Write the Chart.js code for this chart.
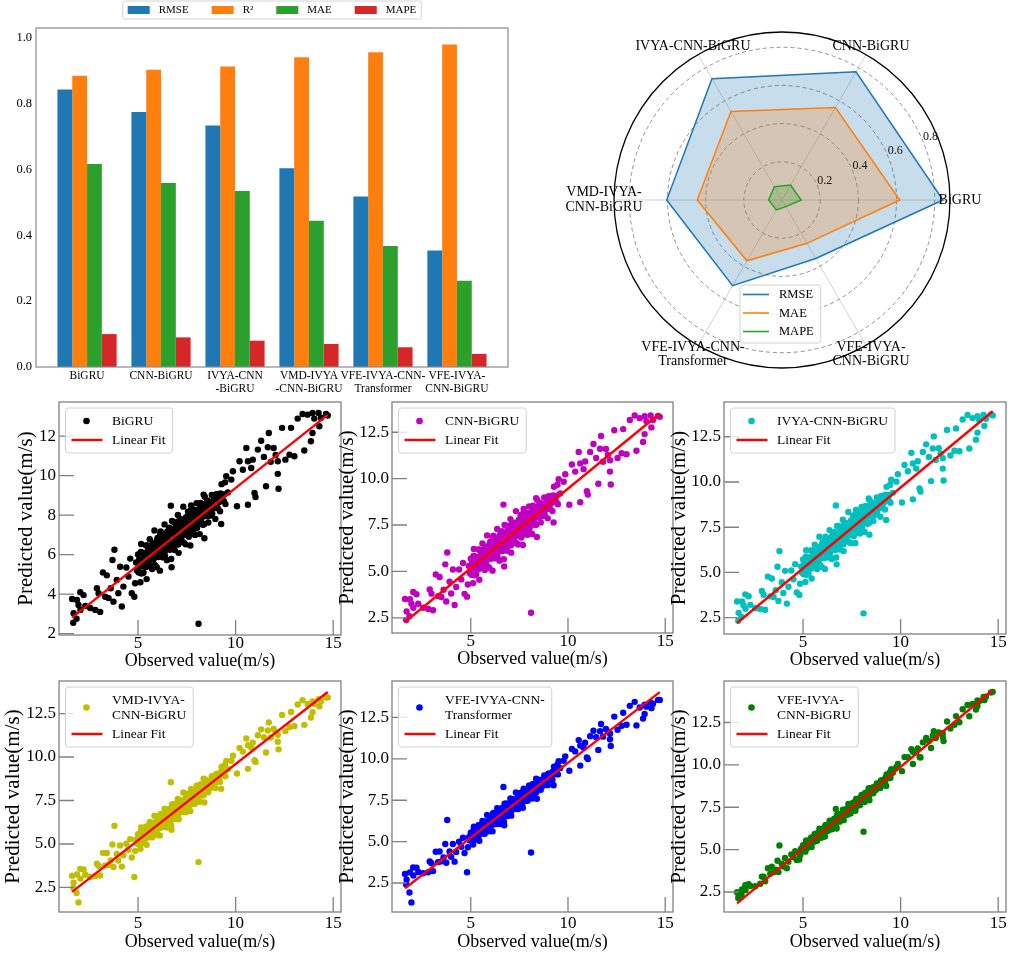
<!DOCTYPE html>
<html>
<head>
<meta charset="utf-8">
<script src="https://cdn.jsdelivr.net/npm/chart.js@4.4.1/dist/chart.umd.min.js"></script>
<style>
  html, body { margin: 0; padding: 0; background: #fff; }
  #fig { position: relative; width: 1015px; height: 957px; overflow: hidden; background: #fff; }
  #fig canvas { position: absolute; }
</style>
</head>
<body>
<div id="fig">
  <canvas id="bars" width="544" height="400" style="left:0px;top:0px"></canvas>
  <canvas id="radar" width="455" height="390" style="left:560px;top:0px"></canvas>
</div>
<script>
// ---------- model metrics ----------
const models = ['BiGRU', 'CNN-BiGRU', 'IVYA-CNN-BiGRU', 'VMD-IVYA-CNN-BiGRU', 'VFE-IVYA-CNN-Transformer', 'VFE-IVYA-CNN-BiGRU'];
const rmse = [0.843, 0.775, 0.734, 0.604, 0.518, 0.354];
const r2   = [0.885, 0.903, 0.913, 0.941, 0.956, 0.980];
const mae  = [0.617, 0.559, 0.535, 0.444, 0.368, 0.262];
const mape = [0.10, 0.09, 0.08, 0.07, 0.06, 0.04];

// tick / axis labels
const barTickLabels = [['BiGRU'], ['CNN-BiGRU'], ['IVYA-CNN', '-BiGRU'], ['VMD-IVYA', '-CNN-BiGRU'], ['VFE-IVYA-CNN-', 'Transformer'], ['VFE-IVYA-', 'CNN-BiGRU']];
const seriesLines = [['BiGRU'], ['CNN-BiGRU'], ['IVYA-CNN-BiGRU'], ['VMD-IVYA-', 'CNN-BiGRU'], ['VFE-IVYA-CNN-', 'Transformer'], ['VFE-IVYA-', 'CNN-BiGRU']];
const barYTicks = [0, 0.2, 0.4, 0.6, 0.8, 1.0];
const radarRings = [0.2, 0.4, 0.6, 0.8];

// ---------- wind speed test set: observed vs predicted (m/s) ----------
const observed = [
  1.62, 1.68, 1.70, 1.85, 1.87, 1.95, 2.04, 2.05, 2.21, 2.30,
  2.55, 2.81, 2.89, 2.98, 3.06, 3.20, 3.32, 3.40, 3.49, 3.60,
  3.69, 3.74, 3.79, 3.91, 3.99, 4.08, 4.17, 4.25, 4.40, 4.51,
  4.60, 4.68, 4.81, 4.85, 4.90, 4.95,
  5.00, 5.04, 5.08, 5.12, 5.16, 5.20, 5.24, 5.28, 5.32, 5.36,
  5.40, 5.44, 5.48, 5.52, 5.56, 5.60, 5.64, 5.68, 5.72, 5.76,
  5.80, 5.84, 5.88, 5.92, 5.96, 6.00, 6.04, 6.08, 6.12, 6.16,
  6.20, 6.24, 6.28, 6.32, 6.36, 6.40, 6.44, 6.48, 6.52, 6.56,
  6.60, 6.64, 6.68, 6.72, 6.76, 6.80, 6.84, 6.88, 6.92, 6.96,
  7.00, 7.04, 7.08, 7.12, 7.16, 7.20, 7.24, 7.28, 7.32, 7.36,
  7.40, 7.44, 7.48, 7.52, 7.56, 7.60, 7.64, 7.68, 7.72, 7.76,
  7.80, 7.84, 7.88, 7.92, 7.96, 8.00, 8.04, 8.10, 8.12, 8.16,
  8.20, 8.24, 8.28, 8.32, 8.36, 8.40, 8.45, 8.50, 8.55, 8.60,
  8.66, 8.72, 8.78, 8.84, 8.90, 8.96, 9.02, 9.08, 9.14, 9.20,
  9.26, 9.32, 9.40, 9.46,
  9.52, 9.60, 9.78, 9.86, 10.07, 10.20, 10.37, 10.55, 10.63, 10.63,
  10.80, 10.88, 10.97, 11.02, 11.14, 11.31, 11.45, 11.56, 11.65, 11.70,
  11.80, 11.95, 12.05, 12.16, 12.16, 12.20, 12.38, 12.55, 12.76, 12.84,
  13.01, 13.18, 13.43, 13.52, 13.69, 13.86, 13.94, 13.94, 14.03, 14.25,
  14.29, 14.37, 14.63, 14.72,
  5.02, 5.06, 5.10, 5.14, 5.18, 5.22, 5.26, 5.30, 5.34, 5.38,
  5.42, 5.46, 5.50, 5.54, 5.58, 5.62, 5.66, 5.70, 5.74, 5.78,
  5.82, 5.86, 5.90, 5.94, 5.98, 6.02, 6.06, 6.10, 6.14, 6.18,
  6.22, 6.26, 6.30, 6.34, 6.38, 6.42, 6.46, 6.50, 6.54, 6.58,
  6.62, 6.66, 6.70, 6.74, 6.78, 6.82, 6.86, 6.90, 6.94, 6.98,
  7.02, 7.06, 7.10, 7.14, 7.18, 7.22, 7.26, 7.30, 7.34, 7.38,
  7.42, 7.46, 7.50, 7.54, 7.58, 7.62, 7.66, 7.70, 7.74, 7.78,
  7.82, 7.86, 7.90, 7.94, 7.98, 8.02, 8.06, 8.14, 8.18,
  8.22, 8.26, 8.30, 8.34, 8.38, 8.42, 8.47, 8.52, 8.57, 8.62,
  8.68, 8.74, 8.80, 8.86, 8.92, 8.98, 9.04, 9.10, 9.16, 9.22,
  9.28, 9.34, 9.42, 9.48
];
const predBiGRU = [
  3.75, 2.55, 3.03, 2.75, 3.70, 3.45, 4.10, 3.20, 3.95, 3.40,
  3.30, 3.20, 4.30, 4.05, 3.10, 5.10, 3.87, 4.95, 3.80, 4.30,
  5.73, 3.62, 6.25, 4.72, 4.05, 5.39, 3.37, 4.38, 5.35, 4.89,
  5.80, 4.05, 3.87, 4.55, 5.60, 5.20,
  6.01, 5.09, 5.67, 4.60, 6.54, 5.52, 6.10, 5.08, 5.96, 5.49,
  6.47, 4.76, 5.89, 6.27, 5.45, 6.78, 5.81, 6.19, 5.27, 6.61,
  5.79, 7.22, 6.10, 6.48, 5.36, 6.84, 5.88, 6.41, 5.19, 7.17,
  6.20, 6.78, 5.86, 6.55, 7.53, 6.21, 7.04, 5.72, 6.85, 6.58,
  7.36, 6.25, 8.48, 5.36, 7.14, 6.62, 7.65, 6.23, 7.07, 7.45,
  6.63, 8.01, 6.09, 7.37, 7.00, 7.79, 6.67, 7.30, 8.43, 7.01,
  7.69, 6.52, 7.55, 7.24, 8.17, 6.90, 7.93, 6.46, 8.49, 7.57,
  7.91, 7.24, 8.27, 7.00, 7.88, 8.61, 7.49, 2.50, 8.26, 7.04,
  8.62, 7.80, 8.18, 7.51, 9.04, 6.83, 8.57, 8.05, 8.74, 7.63,
  8.53, 7.98, 9.02, 8.42, 8.82, 7.81, 9.06, 8.36, 8.81, 8.20,
  7.55, 9.05, 8.71, 9.66,
  9.97, 9.15, 9.80, 10.22, 8.45, 10.73, 10.30, 11.40, 8.53, 10.73,
  10.39, 10.81, 9.12, 8.92, 11.32, 11.77, 10.95, 9.46, 11.44, 12.16,
  10.70, 11.40, 11.05, 10.09, 10.73, 9.34, 12.42, 10.81, 11.06, 12.42,
  10.98, 12.89, 13.12, 11.27, 13.09, 11.74, 13.17, 12.16, 12.89, 13.17,
  12.50, 12.92, 13.12, 13.05,
  5.15, 5.75, 5.45, 6.14, 5.04, 5.70, 5.40, 6.06, 5.58, 5.91,
  5.37, 6.46, 5.83, 5.65, 6.19, 5.44, 6.07, 5.89, 6.49, 5.75,
  6.29, 5.48, 6.20, 6.02, 6.74, 5.90, 6.54, 6.27, 7.05, 5.91,
  6.54, 6.24, 6.84, 6.49, 5.95, 6.79, 6.34, 7.18, 6.55, 6.76,
  6.34, 7.07, 5.78, 7.70, 6.68, 7.04, 6.47, 7.37, 6.93, 6.75,
  7.29, 6.51, 7.71, 6.99, 7.26, 6.85, 7.57, 7.24, 6.61, 7.51,
  7.15, 7.90, 7.33, 7.58, 7.07, 7.88, 7.31, 8.24, 7.07, 7.67,
  7.53, 7.98, 7.41, 8.22, 7.74, 7.35, 8.07, 7.72, 8.50,
  7.60, 8.14, 7.96, 8.41, 7.54, 8.93, 7.95, 8.31, 7.96, 8.69,
  8.23, 8.64, 8.08, 8.52, 8.36, 9.03, 8.36, 8.86, 8.67, 9.10,
  9.57, 8.75, 9.05, 8.56
];
const predCNN = [
  3.51, 2.38, 2.84, 2.59, 3.50, 3.26, 3.89, 3.04, 3.77, 3.26,
  3.04, 2.98, 4.03, 3.80, 2.91, 4.83, 3.67, 4.70, 3.62, 4.01,
  5.38, 3.38, 6.02, 4.44, 3.81, 5.10, 3.19, 4.16, 5.10, 4.57,
  5.45, 3.79, 3.64, 4.29, 5.29, 4.92,
  5.69, 4.82, 5.38, 4.37, 6.21, 5.24, 5.81, 4.84, 5.69, 5.24,
  6.18, 4.55, 5.63, 6.00, 5.22, 6.50, 5.58, 5.94, 5.08, 6.34,
  5.57, 6.94, 5.88, 6.25, 5.18, 6.60, 5.68, 6.20, 5.04, 6.93,
  6.01, 6.56, 5.70, 6.35, 7.29, 6.04, 6.84, 5.58, 6.66, 6.41,
  7.16, 6.10, 8.60, 5.27, 6.97, 6.47, 7.46, 6.11, 6.92, 7.28,
  6.51, 7.82, 6.01, 7.23, 6.88, 7.63, 6.57, 7.18, 8.25, 6.91,
  7.56, 6.45, 7.44, 7.14, 8.04, 6.83, 7.82, 6.42, 8.36, 7.49,
  7.81, 7.18, 8.16, 6.97, 7.81, 8.50, 7.45, 2.77, 8.18, 7.02,
  8.54, 7.76, 8.12, 7.50, 8.95, 6.85, 8.51, 8.03, 8.70, 7.64,
  8.50, 7.98, 8.98, 8.42, 8.81, 7.86, 9.05, 8.38, 8.82, 8.25,
  7.64, 9.07, 8.76, 9.67,
  9.97, 9.20, 9.83, 10.24, 8.59, 10.76, 10.38, 11.44, 8.73, 10.82,
  10.51, 10.92, 9.32, 9.14, 11.44, 11.87, 11.11, 9.72, 11.61, 12.30,
  10.91, 11.60, 11.28, 10.38, 10.99, 9.68, 12.61, 11.11, 11.37, 12.67,
  11.32, 13.16, 13.40, 11.50, 13.26, 11.98, 13.36, 12.40, 13.10, 13.40,
  12.76, 13.16, 13.38, 13.33,
  4.88, 5.45, 5.18, 5.83, 4.79, 5.42, 5.14, 5.77, 5.33, 5.64,
  5.13, 6.17, 5.57, 5.41, 5.93, 5.22, 5.82, 5.66, 6.24, 5.53,
  6.05, 5.28, 5.98, 5.81, 6.50, 5.71, 6.31, 6.06, 6.80, 5.73,
  6.33, 6.05, 6.63, 6.29, 5.79, 6.59, 6.17, 6.98, 6.38, 6.59,
  6.19, 6.89, 5.66, 7.50, 6.53, 6.87, 6.34, 7.20, 6.78, 6.61,
  7.14, 6.40, 7.55, 6.87, 7.12, 6.74, 7.42, 7.12, 6.53, 7.39,
  7.05, 7.77, 7.24, 7.46, 6.99, 7.76, 7.23, 8.12, 7.00, 7.59,
  7.45, 7.89, 7.35, 8.13, 7.67, 7.30, 8.00, 7.67, 8.42,
  7.57, 8.08, 7.92, 8.35, 7.53, 8.85, 7.92, 8.27, 7.95, 8.65,
  8.22, 8.61, 8.09, 8.52, 8.37, 9.02, 8.38, 8.86, 8.68, 9.10,
  9.56, 8.79, 9.08, 8.62
];
const predIVYA = [
  3.40, 2.33, 2.77, 2.54, 3.40, 3.19, 3.79, 2.99, 3.69, 3.21,
  3.02, 2.98, 3.98, 3.77, 2.94, 4.77, 3.68, 4.67, 3.65, 4.02,
  5.32, 3.43, 6.18, 4.46, 3.87, 5.09, 3.28, 4.21, 5.11, 4.62,
  5.46, 3.90, 3.76, 4.38, 5.33, 4.98,
  5.72, 4.90, 5.44, 4.47, 6.23, 5.31, 5.85, 4.94, 5.74, 5.32,
  6.21, 4.67, 5.70, 6.05, 5.32, 6.53, 5.66, 6.01, 5.19, 6.40,
  5.67, 6.97, 5.96, 6.32, 5.31, 6.66, 5.79, 6.28, 5.19, 6.98,
  6.12, 6.65, 5.83, 6.45, 7.34, 6.16, 6.92, 5.74, 6.76, 6.53,
  7.24, 6.24, 8.70, 5.45, 7.07, 6.60, 7.55, 6.27, 7.03, 7.39,
  6.65, 7.91, 6.18, 7.35, 7.01, 7.73, 6.73, 7.31, 8.34, 7.06,
  7.69, 6.63, 7.58, 7.30, 8.14, 7.01, 7.94, 6.63, 8.46, 7.64,
  7.96, 7.35, 8.30, 7.15, 7.96, 8.62, 7.62, 2.74, 8.33, 7.24,
  8.67, 7.94, 8.29, 7.69, 9.09, 7.09, 8.67, 8.21, 8.85, 7.85,
  8.67, 8.19, 9.14, 8.60, 8.98, 8.08, 9.23, 8.60, 9.01, 8.48,
  7.90, 9.26, 8.97, 9.84,
  10.13, 9.40, 10.02, 10.43, 8.87, 10.94, 10.59, 11.61, 9.04, 11.02,
  10.74, 11.15, 9.64, 9.47, 11.66, 12.08, 11.38, 10.05, 11.85, 12.52,
  11.22, 11.87, 11.57, 10.74, 11.31, 10.08, 12.87, 11.46, 11.73, 12.96,
  11.70, 13.45, 13.70, 11.85, 13.53, 12.34, 13.64, 12.73, 13.41, 13.70,
  13.10, 13.49, 13.73, 13.68,
  4.95, 5.50, 5.24, 5.87, 4.87, 5.47, 5.21, 5.82, 5.39, 5.71,
  5.22, 6.21, 5.64, 5.49, 6.00, 5.32, 5.90, 5.74, 6.30, 5.62,
  6.12, 5.41, 6.06, 5.91, 6.56, 5.82, 6.39, 6.16, 6.87, 5.85,
  6.43, 6.16, 6.71, 6.39, 5.92, 6.69, 6.28, 7.06, 6.49, 6.69,
  6.32, 6.98, 5.83, 7.57, 6.66, 6.99, 6.48, 7.30, 6.91, 6.75,
  7.25, 6.55, 7.64, 7.00, 7.25, 6.89, 7.55, 7.25, 6.70, 7.51,
  7.20, 7.88, 7.38, 7.61, 7.15, 7.89, 7.38, 8.23, 7.18, 7.74,
  7.61, 8.03, 7.52, 8.26, 7.84, 7.49, 8.15, 7.84, 8.56,
  7.75, 8.25, 8.09, 8.51, 7.73, 8.98, 8.11, 8.45, 8.15, 8.81,
  8.40, 8.79, 8.30, 8.70, 8.57, 9.19, 8.59, 9.05, 8.89, 9.30,
  9.73, 8.99, 9.28, 8.85
];
const predVMD = [
  3.18, 2.47, 2.78, 2.18, 3.25, 1.64, 3.57, 3.01, 3.54, 3.23,
  3.12, 3.16, 3.87, 3.75, 3.19, 4.49, 3.77, 4.48, 3.79, 4.05,
  4.97, 3.68, 6.05, 4.43, 4.05, 4.91, 3.70, 4.35, 5.01, 4.67,
  5.27, 4.22, 3.10, 4.59, 5.26, 5.03,
  5.56, 5.00, 5.38, 4.73, 5.95, 5.33, 5.71, 5.09, 5.66, 5.37,
  6.00, 4.95, 5.67, 5.92, 5.43, 6.27, 5.69, 5.93, 5.38, 6.22,
  5.73, 6.63, 5.96, 6.21, 5.53, 6.46, 5.88, 6.22, 5.49, 6.73,
  6.15, 6.52, 5.97, 6.40, 7.03, 6.22, 6.76, 5.95, 6.67, 6.52,
  7.02, 6.34, 8.55, 5.82, 6.95, 6.63, 7.30, 6.43, 6.96, 7.21,
  6.72, 7.59, 6.42, 7.23, 7.02, 7.51, 6.84, 7.25, 7.96, 7.10,
  7.54, 6.83, 7.48, 7.31, 7.89, 7.13, 7.78, 6.89, 8.16, 7.61,
  7.83, 7.43, 8.08, 7.31, 7.87, 8.35, 7.66, 3.96, 8.17, 7.43,
  8.42, 7.94, 8.18, 7.79, 8.75, 7.39, 8.49, 8.20, 8.64, 7.97,
  8.55, 8.23, 8.90, 8.55, 8.83, 8.22, 9.02, 8.60, 8.91, 8.56,
  8.17, 9.12, 8.95, 9.56,
  9.78, 9.30, 9.78, 10.07, 9.05, 10.52, 10.31, 11.07, 9.32, 10.68,
  10.54, 10.83, 9.82, 9.72, 11.25, 11.59, 11.14, 10.26, 11.53, 11.99,
  11.12, 11.61, 11.44, 10.88, 11.28, 10.44, 12.42, 11.49, 11.72, 12.59,
  11.77, 13.02, 13.26, 11.85, 13.05, 12.27, 13.19, 12.57, 13.05, 13.32,
  12.91, 13.20, 13.43, 13.42,
  5.03, 5.42, 5.26, 5.69, 5.03, 5.45, 5.28, 5.70, 5.42, 5.65,
  5.33, 6.01, 5.64, 5.54, 5.90, 5.44, 5.85, 5.76, 6.15, 5.70,
  6.05, 5.56, 6.03, 5.93, 6.40, 5.89, 6.30, 6.14, 6.65, 5.95,
  6.36, 6.19, 6.58, 6.37, 6.06, 6.59, 6.33, 6.87, 6.50, 6.64,
  6.40, 6.86, 6.08, 7.28, 6.67, 6.91, 6.57, 7.14, 6.88, 6.78,
  7.14, 6.67, 7.43, 6.99, 7.18, 6.94, 7.40, 7.22, 6.84, 7.42,
  7.21, 7.70, 7.36, 7.52, 7.22, 7.74, 7.40, 8.00, 7.28, 7.68,
  7.59, 7.90, 7.56, 8.08, 7.79, 7.57, 8.03, 7.84, 8.35,
  7.80, 8.15, 8.06, 8.35, 7.83, 8.71, 8.11, 8.36, 8.16, 8.63,
  8.38, 8.65, 8.33, 8.62, 8.55, 8.99, 8.59, 8.92, 8.83, 9.12,
  9.44, 8.95, 9.16, 8.89
];
const predVFETrans = [
  3.05, 2.41, 2.70, 1.93, 3.14, 1.33, 3.44, 2.95, 3.43, 3.17,
  3.09, 3.15, 3.80, 3.70, 3.22, 4.39, 3.76, 4.40, 3.81, 4.04,
  4.86, 3.72, 6.31, 4.41, 4.08, 4.86, 3.79, 4.38, 4.99, 4.69,
  5.23, 4.31, 3.15, 4.66, 5.26, 5.07,
  5.54, 5.05, 5.39, 4.82, 5.90, 5.36, 5.70, 5.16, 5.67, 5.42,
  5.99, 5.05, 5.70, 5.93, 5.49, 6.25, 5.73, 5.96, 5.48, 6.22,
  5.79, 6.61, 6.00, 6.24, 5.63, 6.47, 5.96, 6.27, 5.62, 6.73,
  6.21, 6.55, 6.06, 6.46, 7.02, 6.31, 6.79, 6.07, 6.72, 6.59,
  7.04, 6.44, 8.30, 5.99, 7.00, 6.72, 7.31, 6.55, 7.03, 7.26,
  6.83, 7.60, 6.57, 7.29, 7.11, 7.56, 6.96, 7.33, 7.97, 7.20,
  7.60, 6.97, 7.56, 7.41, 7.94, 7.26, 7.84, 7.05, 8.20, 7.70,
  7.91, 7.56, 8.14, 7.47, 7.97, 8.39, 7.80, 4.34, 8.25, 7.60,
  8.49, 8.06, 8.28, 7.94, 8.80, 7.59, 8.58, 8.32, 8.73, 8.13,
  8.66, 8.38, 8.99, 8.68, 8.94, 8.41, 9.12, 8.76, 9.04, 8.74,
  8.40, 9.26, 9.11, 9.66,
  9.86, 9.44, 9.88, 10.15, 9.28, 10.59, 10.45, 11.13, 9.59, 10.80,
  10.69, 10.97, 10.08, 9.99, 11.37, 11.70, 11.31, 10.54, 11.67, 12.10,
  11.34, 11.80, 11.65, 11.18, 11.53, 10.78, 12.55, 11.76, 12.00, 12.78,
  12.06, 13.20, 13.44, 12.02, 13.10, 12.43, 13.27, 12.71, 13.15, 13.41,
  13.06, 13.33, 13.56, 13.56,
  5.08, 5.42, 5.28, 5.67, 5.09, 5.48, 5.32, 5.71, 5.47, 5.66,
  5.39, 6.00, 5.67, 5.60, 5.91, 5.52, 5.88, 5.80, 6.16, 5.76,
  6.08, 5.65, 6.07, 5.99, 6.40, 5.96, 6.33, 6.19, 6.65, 6.05,
  6.41, 6.27, 6.61, 6.43, 6.16, 6.63, 6.41, 6.89, 6.56, 6.71,
  6.48, 6.91, 6.22, 7.29, 6.75, 6.96, 6.67, 7.19, 6.95, 6.88,
  7.20, 6.79, 7.47, 7.09, 7.26, 7.05, 7.46, 7.30, 6.98, 7.49,
  7.32, 7.74, 7.45, 7.61, 7.34, 7.81, 7.51, 8.05, 7.42, 7.77,
  7.71, 7.98, 7.68, 8.15, 7.89, 7.71, 8.12, 7.97, 8.42,
  7.93, 8.26, 8.17, 8.44, 7.99, 8.76, 8.25, 8.47, 8.30, 8.73,
  8.50, 8.75, 8.48, 8.75, 8.69, 9.09, 8.74, 9.05, 8.96, 9.24,
  9.52, 9.10, 9.31, 9.06
];
const predVFEBiGRU = [
  2.49, 2.14, 2.32, 2.32, 2.65, 2.62, 2.90, 2.61, 2.96, 2.85,
  2.84, 2.99, 3.41, 3.40, 3.13, 3.90, 3.57, 3.99, 3.67, 3.81,
  4.34, 3.68, 5.24, 4.17, 4.00, 4.51, 3.90, 4.29, 4.72, 4.55,
  4.91, 4.39, 4.42, 4.67, 5.05, 4.95,
  5.26, 4.98, 5.20, 4.88, 5.54, 5.24, 5.46, 5.14, 5.46, 5.34,
  5.69, 5.15, 5.56, 5.71, 5.46, 5.93, 5.64, 5.80, 5.52, 5.99,
  5.74, 6.24, 5.90, 6.06, 5.72, 6.24, 5.94, 6.14, 5.77, 6.45,
  6.16, 6.39, 6.11, 6.36, 6.71, 6.30, 6.61, 6.20, 6.61, 6.54,
  6.82, 6.48, 7.40, 6.25, 6.87, 6.73, 7.09, 6.65, 6.95, 7.11,
  6.87, 7.35, 6.74, 7.19, 7.10, 7.39, 7.05, 7.29, 7.69, 7.24,
  7.50, 7.14, 7.51, 7.43, 7.77, 7.37, 7.74, 7.29, 7.99, 7.71,
  7.85, 7.65, 8.02, 7.63, 7.95, 8.22, 7.88, 6.06, 8.19, 7.81,
  8.36, 8.12, 8.28, 8.09, 8.61, 7.91, 8.52, 8.39, 8.66, 8.33,
  8.66, 8.52, 8.91, 8.75, 8.92, 8.63, 9.09, 8.90, 9.08, 8.93,
  8.76, 9.30, 9.23, 9.59,
  9.74, 9.53, 9.86, 10.06, 9.63, 10.46, 10.45, 10.93, 10.05, 10.77,
  10.78, 10.97, 10.47, 10.44, 11.33, 11.59, 11.41, 11.00, 11.72, 11.99,
  11.58, 11.91, 11.87, 11.64, 11.85, 11.41, 12.56, 12.14, 12.37, 12.88,
  12.52, 13.28, 13.53, 12.87, 13.60, 13.27, 13.80, 13.47, 13.77, 14.01,
  13.82, 14.02, 14.27, 14.31,
  4.99, 5.21, 5.14, 5.40, 5.06, 5.31, 5.24, 5.48, 5.35, 5.49,
  5.34, 5.73, 5.55, 5.52, 5.72, 5.50, 5.74, 5.71, 5.94, 5.72,
  5.92, 5.68, 5.95, 5.92, 6.19, 5.94, 6.17, 6.11, 6.40, 6.05,
  6.29, 6.22, 6.45, 6.35, 6.20, 6.51, 6.39, 6.70, 6.52, 6.61,
  6.50, 6.77, 6.37, 7.04, 6.73, 6.88, 6.71, 7.04, 6.92, 6.89,
  7.10, 6.87, 7.29, 7.08, 7.20, 7.09, 7.36, 7.28, 7.10, 7.42,
  7.33, 7.61, 7.45, 7.56, 7.42, 7.71, 7.55, 7.89, 7.53, 7.76,
  7.74, 7.91, 7.75, 8.05, 7.92, 7.82, 8.09, 8.02, 8.31,
  8.04, 8.25, 8.22, 8.40, 8.13, 8.62, 8.33, 8.49, 8.41, 8.69,
  8.57, 8.75, 8.61, 8.80, 8.78, 9.05, 8.87, 9.08, 9.05, 9.24,
  9.44, 9.21, 9.36, 9.24
];

// least-squares fit lines, evaluated at the ends of the observed range
const fitObserved    = [1.62, 14.72];
const fitBiGRU       = [2.81, 13.08];
const fitCNN         = [2.27, 13.51];
const fitIVYA        = [2.21, 13.91];
const fitVMD         = [2.25, 13.74];
const fitVFETrans    = [2.18, 14.03];
const fitVFEBiGRU    = [1.83, 14.42];

// ---------- shared styling ----------
const SERIF = "'Liberation Serif', 'Times New Roman', Times, serif";
Chart.defaults.font.family = SERIF;
Chart.defaults.color = '#000';
Chart.defaults.animation = false;
Chart.defaults.plugins.legend.display = false;
Chart.defaults.plugins.tooltip.enabled = false;

function roundBox(ctx, x, y, w, h, r) {
  ctx.beginPath();
  ctx.moveTo(x + r, y); ctx.lineTo(x + w - r, y); ctx.arcTo(x + w, y, x + w, y + r, r);
  ctx.lineTo(x + w, y + h - r); ctx.arcTo(x + w, y + h, x + w - r, y + h, r);
  ctx.lineTo(x + r, y + h); ctx.arcTo(x, y + h, x, y + h - r, r);
  ctx.lineTo(x, y + r); ctx.arcTo(x, y, x + r, y, r); ctx.closePath();
}

// axes box (and optional inward tick marks) around the plotting area
const framePlugin = {
  id: 'frame',
  afterDatasetsDraw(chart, args, opts) {
    const { ctx, chartArea: a } = chart;
    ctx.save();
    ctx.strokeStyle = opts.color || '#808080';
    ctx.lineWidth = opts.width || 1.2;
    if (opts.tickLen) {
      ctx.beginPath();
      const xs = chart.scales.x, ys = chart.scales.y;
      xs.ticks.forEach(t => {
        const px = xs.getPixelForValue(t.value);
        ctx.moveTo(px, a.bottom); ctx.lineTo(px, a.bottom - opts.tickLen);
      });
      ys.ticks.forEach(t => {
        const py = ys.getPixelForValue(t.value);
        ctx.moveTo(a.left, py); ctx.lineTo(a.left + opts.tickLen, py);
      });
      ctx.stroke();
    }
    ctx.strokeRect(a.left, a.top, a.right - a.left, a.bottom - a.top);
    ctx.restore();
  }
};

// ---------- grouped bar chart ----------
const barLegend = {
  id: 'barLegend',
  afterDraw(chart) {
    const { ctx, chartArea: a } = chart;
    const items = chart.data.datasets.map(d => ({ text: d.label, color: d.backgroundColor }));
    ctx.save();
    ctx.font = '11px ' + SERIF;
    const sw = 22, gap = 9, col = 23, pad = 5;
    const widths = items.map(it => ctx.measureText(it.text).width);
    const total = pad * 2 + items.length * (sw + gap) + widths.reduce((s, w) => s + w, 0) + col * (items.length - 1);
    const left = (a.left + a.right) / 2 - total / 2, top = 1, h = 18, cy = top + h / 2;
    roundBox(ctx, left, top, total, h, 2.5);
    ctx.fillStyle = 'rgba(255,255,255,0.9)'; ctx.fill();
    ctx.strokeStyle = '#d4d4d4'; ctx.lineWidth = 1; ctx.stroke();
    let x = left + pad;
    ctx.textBaseline = 'middle'; ctx.textAlign = 'left';
    items.forEach((it, i) => {
      ctx.fillStyle = it.color; ctx.fillRect(x, cy - 4, sw, 8);
      ctx.fillStyle = '#000'; ctx.fillText(it.text, x + sw + gap, cy + 0.5);
      x += sw + gap + widths[i] + col;
    });
    ctx.restore();
  }
};

const asPoints = vals => vals.map((v, i) => ({ x: i, y: v }));
new Chart(document.getElementById('bars'), {
  type: 'bar',
  data: {
    datasets: [
      { label: 'RMSE', data: asPoints(rmse), backgroundColor: '#1f77b4' },
      { label: 'R²',   data: asPoints(r2),   backgroundColor: '#ff7f0e' },
      { label: 'MAE',  data: asPoints(mae),  backgroundColor: '#2ca02c' },
      { label: 'MAPE', data: asPoints(mape), backgroundColor: '#d62728' }
    ]
  },
  options: {
    responsive: false, devicePixelRatio: 1,
    layout: { padding: { top: 28, right: 36, left: 0, bottom: 0 } },
    datasets: { bar: { categoryPercentage: 0.8, barPercentage: 1.0, borderWidth: 0 } },
    scales: {
      x: {
        type: 'linear', min: -0.69, max: 5.69, offset: false,
        grid: { display: false, drawTicks: false }, border: { display: false },
        afterBuildTicks: s => { s.ticks = barTickLabels.map((_, i) => ({ value: i })); },
        afterFit: s => { s.height = 33; },
        ticks: {
          autoSkip: false, maxRotation: 0, minRotation: 0, padding: 2,
          font: { size: 11.5, lineHeight: 1.13 },
          callback: v => barTickLabels[Math.round(v)]
        }
      },
      y: {
        min: 0, max: 1.03,
        grid: { display: false, drawTicks: false }, border: { display: false },
        afterBuildTicks: s => { s.ticks = barYTicks.map(v => ({ value: v })); },
        afterFit: s => { s.width = 36; },
        ticks: { padding: 4, font: { size: 12.5 }, callback: v => v.toFixed(1) }
      }
    },
    plugins: { frame: { color: '#8a8a8a', width: 1.2 } }
  },
  plugins: [framePlugin, barLegend]
});

// ---------- radar chart ----------
const radarOrder = [0, 5, 4, 3, 2, 1];   // counter-clockwise from the right
const radarDecor = {
  id: 'radarDecor',
  beforeDatasetsDraw(chart) {
    const s = chart.scales.r, ctx = chart.ctx;
    ctx.save();
    ctx.strokeStyle = '#8f8f8f'; ctx.lineWidth = 1; ctx.setLineDash([4, 3]);
    radarRings.forEach(v => {
      ctx.beginPath(); ctx.arc(s.xCenter, s.yCenter, s.getDistanceFromCenterForValue(v), 0, Math.PI * 2); ctx.stroke();
    });
    ctx.restore();
  },
  afterDraw(chart) {
    const s = chart.scales.r, ctx = chart.ctx;
    const xc = s.xCenter, yc = s.yCenter;
    ctx.save();
    // outer boundary
    ctx.strokeStyle = '#000'; ctx.lineWidth = 1.3;
    ctx.beginPath(); ctx.arc(xc, yc, s.drawingArea, 0, Math.PI * 2); ctx.stroke();
    // radial value labels along 22.5 degrees
    ctx.fillStyle = '#111'; ctx.font = '12px ' + SERIF;
    ctx.textAlign = 'left'; ctx.textBaseline = 'bottom';
    const ang = 22.5 * Math.PI / 180;
    radarRings.forEach(v => {
      const r = s.getDistanceFromCenterForValue(v);
      ctx.fillText(v.toFixed(1), xc + r * Math.cos(ang), yc - r * Math.sin(ang) + 1);
    });
    // category labels
    ctx.font = '14px ' + SERIF; ctx.textAlign = 'center'; ctx.textBaseline = 'middle'; ctx.fillStyle = '#000';
    radarOrder.forEach((m, i) => {
      const p = s.getPointPosition(i, s.drawingArea + 10);
      const lines = seriesLines[m];
      lines.forEach((t, k) => ctx.fillText(t, p.x, p.y + (k - (lines.length - 1) / 2) * 14.5));
    });
    // legend
    ctx.font = '12.5px ' + SERIF;
    const ds = chart.data.datasets;
    const tw = Math.max(...ds.map(d => ctx.measureText(d.label).width));
    const bx = xc - 42, by = yc + 85, bw = 39 + tw + 7, bh = 58;
    roundBox(ctx, bx, by, bw, bh, 2.5);
    ctx.fillStyle = 'rgba(255,255,255,0.82)'; ctx.fill();
    ctx.strokeStyle = '#d0d0d0'; ctx.lineWidth = 1; ctx.stroke();
    ctx.textAlign = 'left';
    ds.forEach((d, i) => {
      const y = by + 9.5 + i * 18.5;
      ctx.strokeStyle = d.borderColor; ctx.lineWidth = 1.6;
      ctx.beginPath(); ctx.moveTo(bx + 3, y); ctx.lineTo(bx + 29, y); ctx.stroke();
      ctx.fillStyle = '#000'; ctx.fillText(d.label, bx + 39, y + 0.5);
    });
    ctx.restore();
  }
};

new Chart(document.getElementById('radar'), {
  type: 'radar',
  data: {
    labels: radarOrder.map(i => models[i]),
    datasets: [
      { label: 'RMSE', data: radarOrder.map(i => rmse[i]), borderColor: '#1f77b4', backgroundColor: 'rgba(31,119,180,0.25)', order: 3 },
      { label: 'MAE',  data: radarOrder.map(i => mae[i]),  borderColor: '#ff7f0e', backgroundColor: 'rgba(255,127,14,0.25)', order: 2 },
      { label: 'MAPE', data: radarOrder.map(i => mape[i]), borderColor: '#2ca02c', backgroundColor: 'rgba(44,160,44,0.25)', order: 1 }
    ]
  },
  options: {
    responsive: false, devicePixelRatio: 1,
    layout: { padding: { left: 54, right: 65, top: 32, bottom: 22 } },
    elements: { line: { borderWidth: 1.5, fill: true, tension: 0 }, point: { radius: 0, hitRadius: 0 } },
    scales: {
      r: {
        min: 0, max: 0.88, startAngle: 90,
        ticks: { display: false },
        pointLabels: { display: false },
        grid: { display: false },
        angleLines: { display: true, color: '#d2d2d2', lineWidth: 1 }
      }
    }
  },
  plugins: [radarDecor]
});

// ---------- observed vs predicted scatter panels ----------
const fitLegend = {
  id: 'fitLegend',
  afterDraw(chart, args, opts) {
    const { ctx, chartArea: a } = chart;
    ctx.save();
    ctx.font = '13.5px ' + SERIF;
    const names = opts.lines;
    const tw = Math.max(...names.map(t => ctx.measureText(t).width), ctx.measureText('Linear Fit').width);
    const bx = a.left + 6.5, by = a.top + 6;
    const firstY = by + 13, lastY = firstY + (names.length - 1) * 15, fitY = lastY + 19;
    const bw = 46.5 + tw + 7, bh = fitY - by + 13;
    roundBox(ctx, bx, by, bw, bh, 3);
    ctx.fillStyle = 'rgba(255,255,255,0.8)'; ctx.fill();
    ctx.strokeStyle = '#d0d0d0'; ctx.lineWidth = 1; ctx.stroke();
    ctx.fillStyle = opts.color;
    ctx.beginPath(); ctx.arc(bx + 21, (firstY + lastY) / 2, 3.3, 0, Math.PI * 2); ctx.fill();
    ctx.strokeStyle = '#ff0000'; ctx.lineWidth = 2.4;
    ctx.beginPath(); ctx.moveTo(bx + 6, fitY); ctx.lineTo(bx + 37, fitY); ctx.stroke();
    ctx.fillStyle = '#000'; ctx.textAlign = 'left'; ctx.textBaseline = 'middle';
    names.forEach((t, i) => ctx.fillText(t, bx + 46.5, firstY + i * 15 + 0.5));
    ctx.fillText('Linear Fit', bx + 46.5, fitY + 0.5);
    ctx.restore();
  }
};

const panels = [
  { m: 0, pred: predBiGRU,    fit: fitBiGRU,    color: '#000000', frame: [59, 402, 341, 635],   row: 0, y: [1.93, 13.73], yTicks: [2, 4, 6, 8, 10, 12],    dec: 0, titlePad: 13 },
  { m: 1, pred: predCNN,      fit: fitCNN,      color: '#bf00bf', frame: [392, 402, 673, 633],  row: 0, y: [1.68, 14.13], yTicks: [2.5, 5, 7.5, 10, 12.5], dec: 1, titlePad: 0.5 },
  { m: 2, pred: predIVYA,     fit: fitIVYA,     color: '#00bfbf', frame: [724, 402, 1006, 634], row: 0, y: [1.60, 14.42], yTicks: [2.5, 5, 7.5, 10, 12.5], dec: 1, titlePad: 0.5 },
  { m: 3, pred: predVMD,      fit: fitVMD,      color: '#bfbf00', frame: [59, 681, 341, 912],   row: 1, y: [1.09, 14.37], yTicks: [2.5, 5, 7.5, 10, 12.5], dec: 1, titlePad: 0 },
  { m: 4, pred: predVFETrans, fit: fitVFETrans, color: '#0000ff', frame: [392, 681, 673, 912],  row: 1, y: [0.75, 14.70], yTicks: [2.5, 5, 7.5, 10, 12.5], dec: 1, titlePad: 0.5 },
  { m: 5, pred: predVFEBiGRU, fit: fitVFEBiGRU, color: '#008000', frame: [724, 681, 1006, 912], row: 1, y: [1.32, 14.95], yTicks: [2.5, 5, 7.5, 10, 12.5], dec: 1, titlePad: 0.5 }
];
const xTicks = [5, 10, 15];
const fig = document.getElementById('fig');

panels.forEach(p => {
  const [L, T, R, B] = p.frame;
  const xAxisH = p.row === 0 ? 38 : 42;
  const cv = document.createElement('canvas');
  cv.width = 58 + (R - L) + 12;
  cv.height = 14 + (B - T) + xAxisH + 2;
  cv.style.left = (L - 58) + 'px';
  cv.style.top = (T - 14) + 'px';
  fig.appendChild(cv);
  new Chart(cv, {
    type: 'scatter',
    data: {
      datasets: [
        { label: 'Linear Fit', data: fitObserved.map((x, i) => ({ x, y: p.fit[i] })), showLine: true,
          borderColor: '#ff0000', borderWidth: 2.4, pointRadius: 0, order: 0 },
        { label: models[p.m], data: observed.map((x, i) => ({ x, y: p.pred[i] })),
          pointRadius: 3.2, pointBorderWidth: 0, backgroundColor: p.color, borderColor: p.color, order: 1 }
      ]
    },
    options: {
      responsive: false, devicePixelRatio: 1,
      layout: { padding: { left: 0, top: 14, right: 12, bottom: 2 } },
      scales: {
        x: {
          type: 'linear', min: 0.95, max: 15.4,
          grid: { display: false, drawTicks: false }, border: { display: false },
          afterBuildTicks: s => { s.ticks = xTicks.map(v => ({ value: v })); },
          afterFit: s => { s.height = xAxisH; },
          ticks: { padding: p.row === 0 ? -2 : 1, maxRotation: 0, font: { size: 17 }, callback: v => String(v) },
          title: { display: true, text: 'Observed value(m/s)', font: { size: 18 }, padding: { top: 0, bottom: 1 } }
        },
        y: {
          type: 'linear', min: p.y[0], max: p.y[1],
          grid: { display: false, drawTicks: false }, border: { display: false },
          afterBuildTicks: s => { s.ticks = p.yTicks.map(v => ({ value: v })); },
          afterFit: s => { s.width = 58; },
          ticks: { padding: 3, font: { size: 17 }, callback: v => v.toFixed(p.dec) },
          title: { display: true, text: 'Predicted value(m/s)', font: { size: 21 }, padding: { top: p.titlePad, bottom: 0 } }
        }
      },
      plugins: {
        frame: { color: '#808080', width: 1.3, tickLen: 15 },
        fitLegend: { lines: seriesLines[p.m], color: p.color }
      }
    },
    plugins: [framePlugin, fitLegend]
  });
});
</script>
</body>
</html>
